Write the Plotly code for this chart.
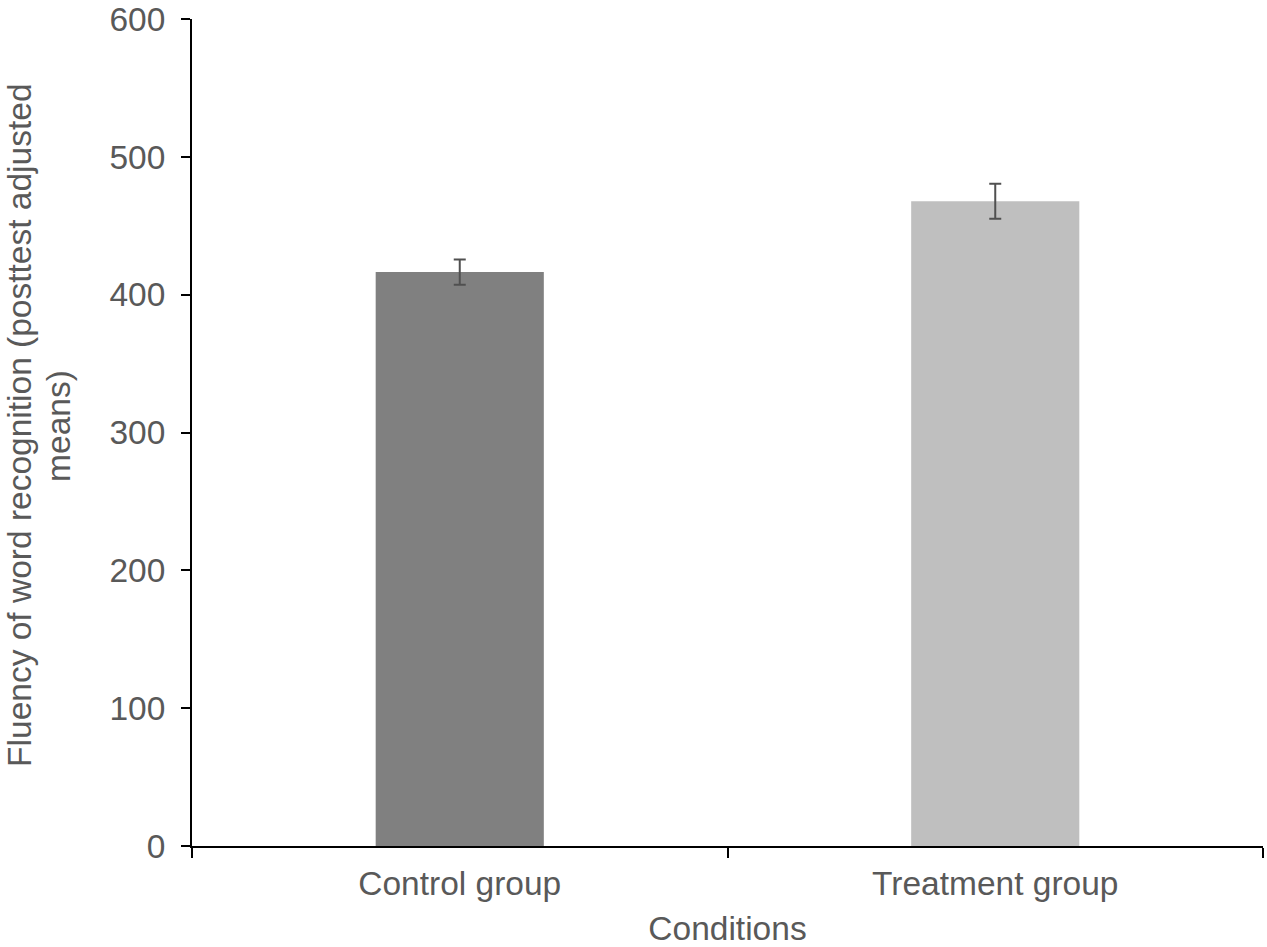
import plotly.graph_objects as go

# values
conditions = ["Control group", "Treatment group"]
adjusted_means = [416.4, 467.7]
std_errors = [9.2, 12.7]
bar_colors = ["#808080", "#BFBFBF"]

y_ticks = [0, 100, 200, 300, 400, 500, 600]
y_title_lines = ["Fluency of word recognition (posttest adjusted", "means)"]

text_color = "#595959"
font_family = "Liberation Sans, Arial, sans-serif"
fsize = 33.5

fig = go.Figure()
fig.add_trace(go.Bar(
    x=conditions,
    y=adjusted_means,
    marker=dict(color=bar_colors, line=dict(width=0)),
    error_y=dict(type="data", array=std_errors, visible=True,
                 color="#505050", thickness=2, width=6),
    showlegend=False,
))

fig.update_layout(
    width=1267, height=947,
    margin=dict(l=192, r=4, t=19, b=101, autoexpand=False),
    plot_bgcolor="white", paper_bgcolor="white",
    bargap=0.686,
    font=dict(family=font_family, size=fsize, color=text_color),
)
fig.update_xaxes(
    title=dict(text="Conditions", standoff=30, font=dict(size=fsize, color=text_color)),
    showline=True, linecolor="black", linewidth=2,
    ticks="outside", ticklen=10, tickwidth=2, tickcolor="black",
    tickson="boundaries",
    ticklabelstandoff=7,
    tickfont=dict(size=fsize, color=text_color),
    showgrid=False, zeroline=False,
)
fig.update_yaxes(
    range=[0, 600], tickvals=y_ticks,
    showline=True, linecolor="black", linewidth=2,
    ticks="outside", ticklen=9, tickwidth=2, tickcolor="black",
    ticklabelstandoff=9, ticklabeloverflow="allow",
    tickfont=dict(size=fsize, color=text_color),
    showgrid=False, zeroline=False,
)

# two-line y title, drawn as annotations for tighter line spacing
for line, shift in zip(y_title_lines, [-172, -133]):
    fig.add_annotation(
        text=line, textangle=-90,
        xref="paper", yref="paper", x=0, y=0.508,
        xanchor="center", yanchor="middle", xshift=shift,
        showarrow=False,
        font=dict(size=fsize, color=text_color),
    )

# drop the default 8px body margin so the figure sits at the page corner
fig.write_html("out.html", config={"displayModeBar": False},
               post_script="document.body.style.margin='0';")
